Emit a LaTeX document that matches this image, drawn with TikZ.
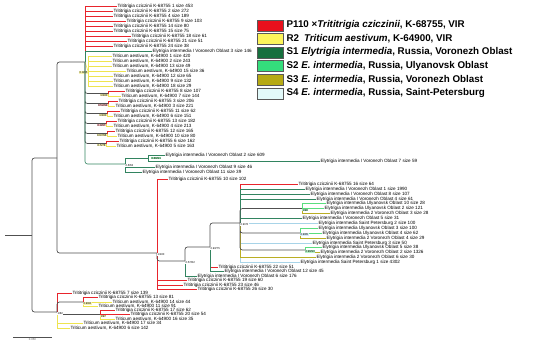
\documentclass[tikz,border=0pt]{standalone}
\usepackage{fontspec}
\setmainfont{Liberation Sans}
\usepackage{tikz}
\usetikzlibrary{positioning}
\definecolor{ttcred}{RGB}{232,36,44}
\definecolor{taeyellow}{RGB}{238,228,80}
\definecolor{sone}{RGB}{50,132,96}
\definecolor{stwo}{RGB}{90,222,126}
\definecolor{sthree}{RGB}{186,174,36}
\definecolor{sfour}{RGB}{168,212,232}
\definecolor{treegrey}{RGB}{80,80,80}
\definecolor{legred}{RGB}{232,16,28}
\definecolor{legyellow}{RGB}{252,244,90}
\definecolor{legsone}{RGB}{22,112,62}
\definecolor{legstwo}{RGB}{52,222,124}
\definecolor{legsthree}{RGB}{182,170,20}
\definecolor{legsfour}{RGB}{226,250,250}

\begin{document}
\begin{tikzpicture}[x=1pt, y=-1pt,
    leaf/.style={anchor=west, inner sep=0.3pt, font=\fontsize{4.6}{4.6}\selectfont},
    sup/.style={inner sep=0.3pt, font=\fontsize{2.8}{2.8}\selectfont},
    br/.style={line width=0.6pt},
    ttcbr/.style={br, ttcred},
    taebr/.style={br, taeyellow},
    sonebr/.style={br, sone},
    stwobr/.style={br, stwo},
    sthreebr/.style={br, sthree},
    sfourbr/.style={br, sfour},
    inbr/.style={line width=0.7pt, treegrey, rounded corners=2.5pt},
    legbox/.style={draw=black!65, minimum width=26pt, minimum height=11pt, inner sep=0pt},
    legtext/.style={anchor=west, inner sep=0pt, font=\fontsize{9.8}{10}\selectfont\bfseries}
]
\useasboundingbox (0,0) rectangle (550,346);

    % Legend
    \node[legbox, fill=legred, anchor=north west] (k1) at (257,19.5) {};
    \node[legtext, right=3pt of k1] (k1t) {P110 ×\textit{Trititrigia cziczinii}, K-68755, VIR};
    \node[legbox, fill=legyellow, below=2.2pt of k1] (k2) {};
    \node[legtext, right=3pt of k2] (k2t) {R2\enspace\textit{Triticum aestivum}, K-64900, VIR};
    \node[legbox, fill=legsone, below=2.2pt of k2] (k3) {};
    \node[legtext, right=3pt of k3] (k3t) {S1 \textit{Elytrigia intermedia}, Russia, Voronezh Oblast};
    \node[legbox, fill=legstwo, below=2.2pt of k3] (k4) {};
    \node[legtext, right=3pt of k4] (k4t) {S2 \textit{E. intermedia}, Russia, Ulyanovsk Oblast};
    \node[legbox, fill=legsthree, below=2.2pt of k4] (k5) {};
    \node[legtext, right=3pt of k5] (k5t) {S3 \textit{E. intermedia}, Russia, Voronezh Oblast};
    \node[legbox, fill=legsfour, below=2.2pt of k5] (k6) {};
    \node[legtext, right=3pt of k6] (k6t) {S4 \textit{E. intermedia}, Russia, Saint-Petersburg};

    % Backbone
    \coordinate (rt) at (5,235);
    \coordinate (R) at (32,235);
    \coordinate (U) at (57,158);
    \coordinate (B) at (57,312);
    \coordinate (T) at (85,62);
    \coordinate (M) at (157,253);
    \draw[inbr] (rt) -- (R);
    \draw[inbr] (R) |- (U) (R) |- (B);
    \draw[inbr] (U) |- (T) (U) |- (M);

    % Top cluster
    \node[leaf] (t1) at (117,6) {Trititrigia cziczinii K-68755 1 size 453};
    \node[leaf] (t2) at (113,11) {Trititrigia cziczinii K-68755 2 size 272};
    \node[leaf] (t3) at (113,16) {Trititrigia cziczinii K-68755 4 size 189};
    \node[leaf] (t4) at (126,21) {Trititrigia cziczinii K-68755 9 size 103};
    \node[leaf] (t5) at (113,26) {Trititrigia cziczinii K-68755 14 size 80};
    \node[leaf] (t6) at (113,31) {Trititrigia cziczinii K-68755 15 size 75};
    \node[leaf] (t7) at (131,36) {Trititrigia cziczinii K-68755 18 size 61};
    \node[leaf] (t8) at (127,41) {Trititrigia cziczinii K-68755 21 size 51};
    \node[leaf] (t9) at (113,46) {Trititrigia cziczinii K-68755 24 size 38};
    \node[leaf] (t10) at (152,51) {Elytrigia intermedia I Voronezh Oblast 3 size 146};
    \draw[ttcbr] (T) |- (t1.west) (T) |- (t2.west) (T) |- (t3.west) (T) |- (t4.west)
        (T) |- (t5.west) (T) |- (t6.west) (T) |- (t7.west) (T) |- (t8.west) (T) |- (t9.west);
    \draw[sonebr] (T) |- (t10.west);

    \coordinate (Y) at (88,71);
    \node[leaf] (t11) at (112,56) {Triticum aestivum, K-64900 1 size 420};
    \node[leaf] (t12) at (112,61) {Triticum aestivum, K-64900 2 size 243};
    \node[leaf] (t13) at (112,66) {Triticum aestivum, K-64900 13 size 49};
    \node[leaf] (t14) at (126,71) {Triticum aestivum, K-64900 15 size 36};
    \node[leaf] (t15) at (113,76) {Triticum aestivum, K-64900 12 size 65};
    \node[leaf] (t16) at (113,81) {Triticum aestivum, K-64900 9 size 132};
    \node[leaf] (t17) at (113,86) {Triticum aestivum, K-64900 18 size 29};
    \draw[taebr] (T) -- (Y);
    \draw[taebr] (Y) |- (t11.west) (Y) |- (t12.west) (Y) |- (t13.west) (Y) |- (t14.west)
        (Y) |- (t15.west) (Y) |- (t16.west) (Y) |- (t17.west);
    \node[sup, fill=taeyellow!45, anchor=north east] (sY) at (Y) {0.9/95};

    % Paired leaves
    \coordinate (PA) at (108,93.5);
    \coordinate (PB) at (108,103.5);
    \coordinate (PC) at (107,113.5);
    \coordinate (PD) at (106,123.5);
    \coordinate (PE) at (107,133.5);
    \coordinate (PF) at (106,143.5);
    \node[leaf] (t18) at (125,91) {Trititrigia cziczinii K-68755 8 size 107};
    \node[leaf] (t19) at (121,96) {Triticum aestivum, K-64900 7 size 144};
    \node[leaf] (t20) at (118,101) {Trititrigia cziczinii K-68755 3 size 206};
    \node[leaf] (t21) at (115,106) {Triticum aestivum, K-64900 3 size 221};
    \node[leaf] (t22) at (120,111) {Trititrigia cziczinii K-68755 11 size 62};
    \node[leaf] (t23) at (113,116) {Triticum aestivum, K-64900 6 size 151};
    \node[leaf] (t24) at (117,121) {Trititrigia cziczinii K-68755 13 size 182};
    \node[leaf] (t25) at (113,126) {Triticum aestivum, K-64900 4 size 213};
    \node[leaf] (t26) at (115,131) {Trititrigia cziczinii K-68755 12 size 165};
    \node[leaf] (t27) at (117,136) {Triticum aestivum, K-64900 10 size 80};
    \node[leaf] (t28) at (119,141) {Trititrigia cziczinii K-68755 6 size 162};
    \node[leaf] (t29) at (116,146) {Triticum aestivum, K-64900 5 size 163};
    \draw[inbr] (T) |- (PA) (T) |- (PB) (T) |- (PC) (T) |- (PD) (T) |- (PE) (T) |- (PF);
    \draw[ttcbr] (PA) |- (t18.west) (PB) |- (t20.west) (PC) |- (t22.west)
        (PD) |- (t24.west) (PE) |- (t26.west) (PF) |- (t28.west);
    \draw[taebr] (PA) |- (t19.west) (PB) |- (t21.west) (PC) |- (t23.west)
        (PD) |- (t25.west) (PE) |- (t27.west) (PF) |- (t29.west);
    \node[sup, fill=taeyellow!45, anchor=north east] (sPA) at (PA) {1/100};
    \node[sup, fill=ttcred!30, anchor=north east] (sPB) at (PB) {0.52/94};
    \node[sup, fill=taeyellow!45, anchor=north east] (sPC) at (PC) {1/100};
    \node[sup, fill=ttcred!30, anchor=north east] (sPD) at (PD) {0.9/97};
    \node[sup, fill=taeyellow!45, anchor=north east] (sPE) at (PE) {0.97/96};
    \node[sup, fill=taeyellow!45, anchor=north east] (sPF) at (PF) {0.5/78};

    % Elytrigia branch of the top cluster
    \coordinate (G) at (125,164);
    \coordinate (G2) at (148,158);
    \node[leaf] (t30) at (165,155) {Elytrigia intermedia I Voronezh Oblast 2 size 609};
    \node[leaf] (t31) at (320,161) {Elytrigia intermedia I Voronezh Oblast 7 size 59};
    \node[leaf] (t32) at (155,167) {Elytrigia intermedia I Voronezh Oblast 9 size 46};
    \node[leaf] (t33) at (142,172) {Elytrigia intermedia I Voronezh Oblast 11 size 39};
    \draw[sonebr, rounded corners=2.5pt] (T) |- (G);
    \draw[sonebr] (G) |- (G2) (G) |- (t32.west) (G) |- (t33.west);
    \draw[sonebr] (G2) |- (t30.west) (G2) |- (t31.west);
    \node[sup, fill=white, anchor=north west] (sG) at (G) {0.6/63};
    \node[sup, fill=stwo!60, anchor=west] (sG2) at ([xshift=3pt]G2) {0.89/91};

    % Red branch with the Elytrigia clade
    \coordinate (N) at (185,261);
    \coordinate (P) at (210,247);
    \coordinate (Q) at (240,223);
    \node[leaf] (t34) at (168,179) {Trititrigia cziczinii K-68755 10 size 102};
    \node[leaf] (t52) at (218,267) {Trititrigia cziczinii K-68755 22 size 51};
    \node[leaf] (t53) at (224,271.5) {Elytrigia intermedia I Voronezh Oblast 12 size 45};
    \node[leaf] (t54) at (197,276) {Elytrigia intermedia I Voronezh Oblast 6 size 176};
    \node[leaf] (t55) at (187,280.5) {Trititrigia cziczinii K-68755 19 size 60};
    \node[leaf] (t56) at (183,285) {Trititrigia cziczinii K-68755 23 size 46};
    \node[leaf] (t57) at (197,289.5) {Trititrigia cziczinii K-68755 26 size 30};
    \draw[ttcbr] (M) |- (t34.west) (M) |- (t55.west) (M) |- (t56.west) (M) |- (t57.west);
    \draw[inbr] (M) |- (N);
    \draw[inbr] (N) |- (P);
    \draw[sonebr] (N) |- (t54.west);
    \draw[inbr] (P) |- (Q);
    \draw[ttcbr] (P) |- (t52.west);
    \draw[sonebr] (P) |- (t53.west);
    \node[sup, fill=white, anchor=north west] (sM) at (M) {1/100};
    \node[sup, fill=white, anchor=north west] (sN) at (N) {0.57/82};
    \node[sup, fill=white, anchor=north west] (sP) at (P) {0.93/75};

    % Elytrigia clade
    \coordinate (Q1) at (302,208.5);
    \coordinate (Q2) at (300,233);
    \coordinate (Q3) at (305,250);
    \node[leaf] (m1) at (298,184) {Trititrigia cziczinii K-68755 16 size 64};
    \node[leaf] (m2) at (305,189) {Elytrigia intermedia I Voronezh Oblast 1 size 1990};
    \node[leaf] (m3) at (310,194) {Elytrigia intermedia I Voronezh Oblast 8 size 107};
    \node[leaf] (m4) at (316,199) {Elytrigia intermedia I Voronezh Oblast 4 size 61};
    \node[leaf] (m5) at (326,203.5) {Elytrigia intermedia Ulyanovsk Oblast 10 size 28};
    \node[leaf] (m6) at (324,208.5) {Elytrigia intermedia Ulyanovsk Oblast 2 size 121};
    \node[leaf] (m7) at (330,213.5) {Elytrigia intermedia 2 Voronezh Oblast 3 size 28};
    \node[leaf] (m8) at (302,218) {Elytrigia intermedia I Voronezh Oblast 5 size 31};
    \node[leaf] (m9) at (318,223) {Elytrigia intermedia Saint Petersburg 2 size 100};
    \node[leaf] (m10) at (318,228) {Elytrigia intermedia Ulyanovsk Oblast 3 size 100};
    \node[leaf] (m11) at (322,233) {Elytrigia intermedia Ulyanovsk Oblast 4 size 62};
    \node[leaf] (m12) at (326,238) {Elytrigia intermedia 2 Voronezh Oblast 4 size 29};
    \node[leaf] (m13) at (312,243) {Elytrigia intermedia Saint Petersburg 3 size 50};
    \node[leaf] (m14) at (322,247.5) {Elytrigia intermedia Ulyanovsk Oblast 5 size 38};
    \node[leaf] (m15) at (320,252.5) {Elytrigia intermedia 2 Voronezh Oblast 2 size 1326};
    \node[leaf] (m16) at (316,257.5) {Elytrigia intermedia 2 Voronezh Oblast 6 size 30};
    \node[leaf] (m17) at (300,262.5) {Elytrigia intermedia Saint Petersburg 1 size 4302};
    \draw[ttcbr] (Q) |- (m1.west);
    \draw[sonebr] (Q) |- (m2.west) (Q) |- (m3.west) (Q) |- (m4.west) (Q) |- (m8.west);
    \draw[sfourbr] (Q) |- (m9.west) (Q) |- (m13.west) (Q) |- (m17.west);
    \draw[sthreebr] (Q) |- (m16.west);
    \draw[inbr] (Q) |- (Q1) (Q) |- (Q2) (Q) |- (Q3);
    \draw[stwobr] (Q1) |- (m5.west) (Q1) |- (m6.west) (Q2) |- (m10.west) (Q2) |- (m11.west)
        (Q3) |- (m14.west);
    \draw[sthreebr] (Q1) |- (m7.west) (Q2) |- (m12.west) (Q3) |- (m15.west);
    \node[sup, fill=white, anchor=north west] (sQ) at (Q) {0.9/78};
    \node[sup, fill=stwo!45, anchor=north west] (sQ1) at (Q1) {1/98};
    \node[sup, fill=sfour!45, anchor=north west] (sQ2) at (Q2) {0.9/85};
    \node[sup, fill=stwo!45, anchor=north west] (sQ3) at (Q3) {0.99/90};

    % Bottom cluster
    \coordinate (B1) at (83,302);
    \coordinate (B3) at (100,314.5);
    \node[leaf] (b1) at (72,293.5) {Trititrigia cziczinii K-68755 7 size 139};
    \node[leaf] (b2) at (98,297.5) {Trititrigia cziczinii K-68755 13 size 81};
    \node[leaf] (b3) at (112,302) {Triticum aestivum, K-64900 14 size 44};
    \node[leaf] (b4) at (98,306) {Triticum aestivum, K-64900 11 size 91};
    \node[leaf] (b5) at (115,310) {Trititrigia cziczinii K-68755 17 size 62};
    \node[leaf] (b6) at (130,314.5) {Trititrigia cziczinii K-68755 20 size 54};
    \node[leaf] (b7) at (115,319) {Triticum aestivum, K-64900 16 size 35};
    \node[leaf] (b8) at (83,323.5) {Triticum aestivum, K-64900 17 size 34};
    \node[leaf] (b9) at (70,328) {Triticum aestivum, K-64900 6 size 142};
    \draw[ttcbr] (B) |- (b1.west);
    \draw[inbr] (B) |- (B1) (B) |- (B3);
    \draw[taebr] (B) |- (b8.west) (B) |- (b9.west);
    \draw[ttcbr] (B1) |- (b2.west) (B3) |- (b5.west) (B3) |- (b6.west);
    \draw[taebr] (B1) |- (b3.west) (B1) |- (b4.west) (B3) |- (b7.west);
    \node[sup, fill=white, anchor=north west] (sB) at (B) {1/82};
    \node[sup, fill=taeyellow!45, anchor=north west] (sB1) at (B1) {0.9/92};
    \node[sup, fill=taeyellow!45, anchor=north west] (sB3) at (B3) {1/97};

    % Scale bar
    \coordinate (sb1) at (13,337);
    \coordinate (sb2) at (52,337);
    \draw[treegrey, line width=0.5pt] (sb1) -- (sb2) node[sup, midway, below=1pt] (sbl) {0.050};
\end{tikzpicture}
\end{document}
